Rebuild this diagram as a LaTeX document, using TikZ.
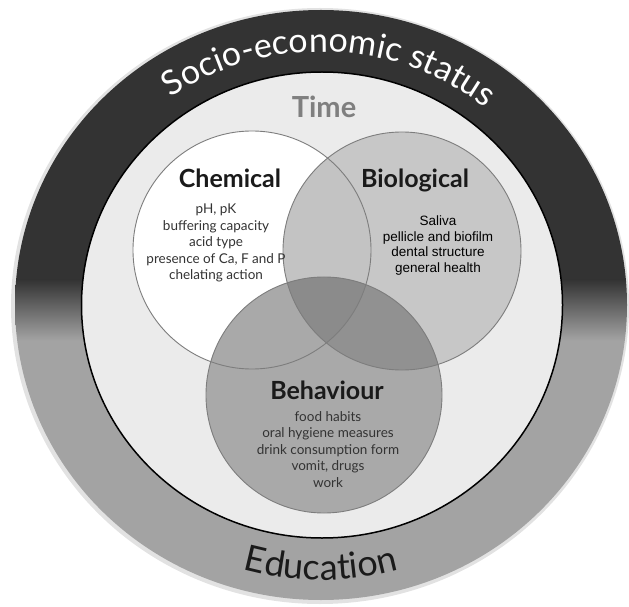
\documentclass[tikz,border=0pt]{standalone}
\usepackage{fontspec}
\setmainfont{Lato}
\newfontfamily\arialfont{Liberation Sans}
\usetikzlibrary{decorations.text}
\definecolor{ringdark}{HTML}{333333}
\definecolor{ringgrey}{HTML}{A3A3A3}
\definecolor{halo}{HTML}{E2E2E2}
\definecolor{innerfill}{HTML}{EBEBEB}
\definecolor{biofill}{HTML}{C7C7C7}
\definecolor{lensfill}{HTML}{C3C3C3}
\definecolor{behfill}{HTML}{A9A9A9}
\definecolor{bbfill}{HTML}{919191}
\definecolor{allfill}{HTML}{8B8B8B}
\definecolor{vennline}{HTML}{7D7D7D}
\definecolor{headcol}{HTML}{1A1A1A}
\definecolor{listcol}{HTML}{333333}
\definecolor{timecol}{HTML}{7F7F7F}
\newcommand{\socfont}{\fontsize{34}{34}\selectfont\color{white}}
\newcommand{\edufont}{\fontsize{36}{36}\selectfont\color{headcol}}
\tikzset{
  heading/.style={font=\fontsize{25}{25}\selectfont\bfseries, text=headcol, inner sep=0pt},
  itemlist/.style={font=\fontsize{13.5}{16.5}\selectfont, text=listcol, align=center, inner sep=0pt},
  vennedge/.style={draw=vennline, line width=0.9pt},
}
\begin{document}
\begin{tikzpicture}[x=1pt,y=1pt]
\useasboundingbox (0,0) rectangle (629,606);
\coordinate (ctr) at (321,301);
\coordinate (chem) at (252,356);
\coordinate (bio) at (402,355);
\coordinate (beh) at (324,211);
% outer ring with halo
\fill[halo] (320,300) ellipse [x radius=309, y radius=298];
\begin{scope}
\clip (ctr) ellipse [x radius=306, y radius=295];
\fill[ringdark] (0,326) rectangle (629,606);
\fill[ringgrey] (0,0) rectangle (629,266);
\shade[top color=ringdark, bottom color=ringgrey] (0,265.5) rectangle (629,326.5);
\end{scope}
% inner disc
\filldraw[fill=innerfill, draw=black, line width=1.5pt] (322,301) ellipse [x radius=240.5, y radius=233];
% Venn fills
\fill[white] (chem) circle[radius=119];
\fill[biofill] (bio) circle[radius=119];
\begin{scope}
\clip (chem) circle[radius=119];
\fill[lensfill] (bio) circle[radius=119];
\end{scope}
\fill[behfill] (beh) circle[radius=118];
\begin{scope}
\clip (bio) circle[radius=119];
\fill[bbfill] (beh) circle[radius=118];
\clip (chem) circle[radius=119];
\fill[allfill] (beh) circle[radius=118];
\end{scope}
% Venn outlines
\draw[vennedge] (chem) circle[radius=119];
\draw[vennedge] (bio) circle[radius=119];
\draw[vennedge] (beh) circle[radius=118];
% curved labels
\path[decorate, decoration={text along path, text align=center,
  text={|\socfont|Socio-economic status}}]
  (ctr) ++(148:263pt and 253pt) arc[start angle=148, end angle=28, x radius=263pt, y radius=253pt];
\path[decorate, decoration={text along path, text align=center,
  text={|\edufont|Education}}]
  (ctr) ++(212:286pt and 275pt) arc[start angle=212, end angle=328, x radius=286pt, y radius=275pt];
% texts
\node[font=\fontsize{29}{29}\selectfont\bfseries, text=timecol, inner sep=0pt] (time) at (324,499) {Time};
\node[heading] (chemt) at (230,428) {Chemical};
\node[itemlist] (cheml) at (216,363) {pH, pK\\buffering capacity\\acid type\\presence of Ca, F and P\\chelating action};
\node[heading] (biot) at (415,426) {Biological};
\node[itemlist, font=\arialfont\fontsize{13.5}{15.7}\selectfont, text=black] (biol) at (438,360.5) {Saliva\\pellicle and biofilm\\dental structure\\general health};
\node[heading] (beht) at (327,216) {Behaviour};
\node[itemlist] (behl) at (328,156.5) {food habits\\oral hygiene measures\\drink consumption form\\vomit, drugs\\work};
\end{tikzpicture}
\end{document}
